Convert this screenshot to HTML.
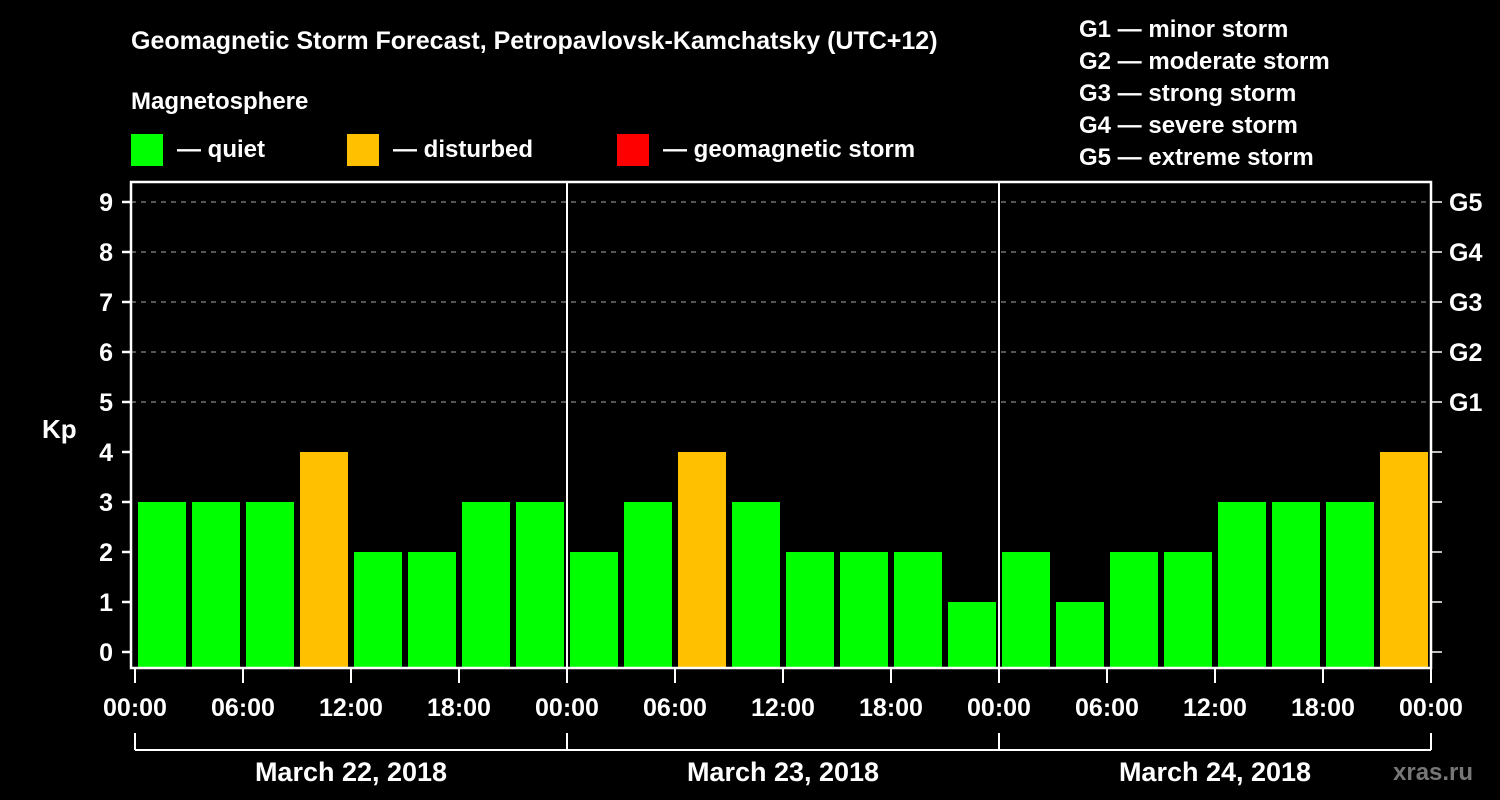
<!DOCTYPE html>
<html><head><meta charset="utf-8"><style>
html,body{margin:0;padding:0;background:#000;}
svg{display:block;font-family:"Liberation Sans",sans-serif;font-weight:bold;}
</style></head><body>
<svg id="chart" width="1500" height="800" viewBox="0 0 1500 800">
<rect width="1500" height="800" fill="#000"/>
<text x="131" y="49" fill="#fff" font-size="25">Geomagnetic Storm Forecast, Petropavlovsk-Kamchatsky (UTC+12)</text>
<text x="131" y="109" fill="#fff" font-size="24">Magnetosphere</text>
<g>
<rect x="131" y="134" width="32" height="32" fill="#00ff00"/>
<text x="177" y="157" fill="#fff" font-size="24">— quiet</text>
<rect x="347" y="134" width="32" height="32" fill="#ffc000"/>
<text x="393" y="157" fill="#fff" font-size="24">— disturbed</text>
<rect x="617" y="134" width="32" height="32" fill="#ff0000"/>
<text x="663" y="157" fill="#fff" font-size="24">— geomagnetic storm</text>
</g>
<g fill="#fff" font-size="24">
<text x="1079" y="37">G1 — minor storm</text>
<text x="1079" y="69">G2 — moderate storm</text>
<text x="1079" y="101">G3 — strong storm</text>
<text x="1079" y="133">G4 — severe storm</text>
<text x="1079" y="165">G5 — extreme storm</text>
</g>
<g id="plot"></g>
<text x="42" y="438" fill="#fff" font-size="26">Kp</text>
<text x="1393" y="780" fill="#777" font-size="24">xras.ru</text>
</svg>
<script>
const days = ["March 22, 2018","March 23, 2018","March 24, 2018"];
const kpValues = [3,3,3,4,2,2,3,3, 2,3,4,3,2,2,2,1, 2,1,2,2,3,3,3,4];
const yTicks = [0,1,2,3,4,5,6,7,8,9];
const gLabels = ["G1","G2","G3","G4","G5"];
const gLevels = [5,6,7,8,9];
const xTickLabels = ["00:00","06:00","12:00","18:00"];

const NS="http://www.w3.org/2000/svg";
const g=document.getElementById('plot');
const L=131,R=1431,T=182,B=668,X0=135,DAYW=432;
const y=v=>652-v*50;
const x=h=>X0+h*18;
function el(t,a,p){const e=document.createElementNS(NS,t);for(const k in a)e.setAttribute(k,a[k]);(p||g).appendChild(e);return e;}
// gridlines
yTicks.forEach(v=>{if(v>=5){const l=el('line',{x1:L,x2:R,y1:y(v),y2:y(v),stroke:'#888','stroke-width':1.2,'stroke-dasharray':'5,5'});}});
// bars
kpValues.forEach((v,i)=>{const c=v>=5?'#ff0000':(v>=4?'#ffc000':'#00ff00');
const r=el('rect',{x:x(i*3)+3,y:y(v),width:48,height:B-y(v),fill:c});

});
// day separators
for(let d=1;d<days.length;d++){const l=el('line',{x1:x(d*24),x2:x(d*24),y1:T,y2:B,stroke:'#fff','stroke-width':2});}
// frame
const f=el('rect',{x:L,y:T,width:R-L,height:B-T,fill:'none',stroke:'#fff','stroke-width':2.5});

// y ticks
yTicks.forEach(v=>{el('line',{x1:122,x2:L,y1:y(v),y2:y(v),stroke:'#fff','stroke-width':2.5});
el('line',{x1:R,x2:1442,y1:y(v),y2:y(v),stroke:'#fff','stroke-width':1.5});
const t=el('text',{x:113,y:y(v)+9,fill:'#fff','font-size':25,'text-anchor':'end'});t.textContent=v;
});
gLabels.forEach((s,i)=>{const t=el('text',{x:1449,y:y(gLevels[i])+9,fill:'#fff','font-size':25});t.textContent=s;
});
// x ticks
for(let h=0;h<=72;h+=6){const xx=x(h);
el('line',{x1:xx,x2:xx,y1:B,y2:683,stroke:'#fff','stroke-width':2});
const t=el('text',{x:xx,y:716,fill:'#fff','font-size':25,'text-anchor':'middle'});t.textContent=xTickLabels[(h/6)%4];
}
// day brackets
el('line',{x1:X0,x2:x(72),y1:750,y2:750,stroke:'#fff','stroke-width':2});
for(let d=0;d<=days.length;d++)el('line',{x1:x(d*24),x2:x(d*24),y1:733,y2:750,stroke:'#fff','stroke-width':2});
days.forEach((s,d)=>{const t=el('text',{x:x(d*24+12),y:781,fill:'#fff','font-size':27,'text-anchor':'middle'});t.textContent=s;
});
</script>
</body></html>
